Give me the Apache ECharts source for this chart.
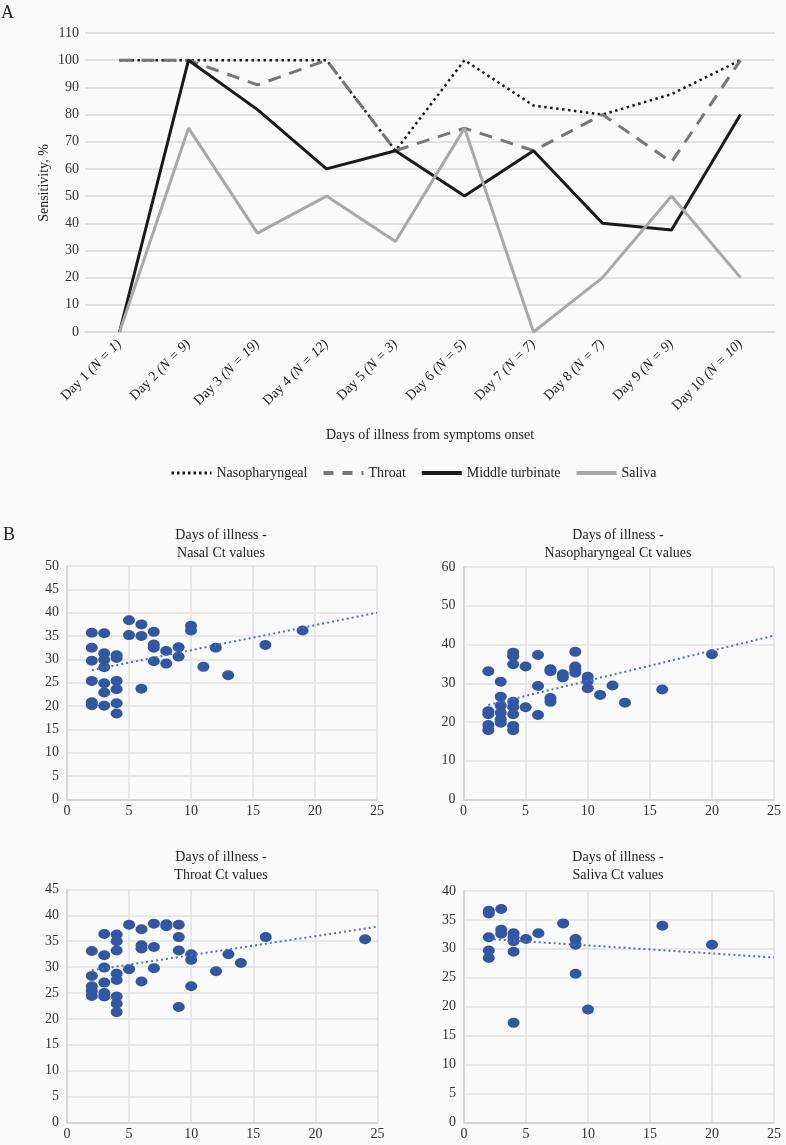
<!DOCTYPE html>
<html><head><meta charset="utf-8">
<script src="https://cdn.jsdelivr.net/npm/echarts@6/dist/echarts.min.js"></script>
<style>html,body{margin:0;padding:0;background:#fafafa}#c{width:786px;height:1145px}</style>
</head><body><div id="c"></div>
<script>
// ---------- Panel A data ----------
const days = ['Day 1','Day 2','Day 3','Day 4','Day 5','Day 6','Day 7','Day 8','Day 9','Day 10'];
const nCounts = [1,9,19,12,3,5,7,7,9,10];
const yTicksA = {min:0, max:110, interval:10};
const nasopharyngeal  = [100,100,100,100,66.7,100,83.3,80,87.5,100];
const throat          = [100,100,90.9,100,66.7,75,66.7,80,62.5,100];
const middleTurbinate = [0,100,81.8,60,66.7,50,66.7,40,37.5,80];
const saliva          = [0,75,36.4,50,33.3,75,0,20,50,20];

// ---------- Panel B data ([day, Ct]) ----------
const nasalCt = [
 [2,35.7],[2,32.5],[2,29.7],[2,25.4],[2,20.8],[2,20.2],
 [3,35.6],[3,31.3],[3,29.9],[3,28.3],[3,24.9],[3,22.9],[3,20.1],
 [4,30.9],[4,30.3],[4,25.4],[4,23.6],[4,20.6],[4,18.4],
 [5,38.4],[5,35.2],
 [6,37.5],[6,35.0],[6,23.7],
 [7,35.9],[7,33.2],[7,32.5],[7,29.6],
 [8,31.8],[8,29.1],
 [9,32.6],[9,30.6],
 [10,37.2],[10,36.2],
 [11,28.4],[12,32.5],[13,26.6],[16,33.1],[19,36.2]
];
const nasopharyngealCt = [
 [2,33.1],[2,22.8],[2,22.0],[2,19.2],[2,17.9],
 [3,30.4],[3,26.5],[3,24.2],[3,22.4],[3,20.7],[3,19.8],
 [4,37.9],[4,37.0],[4,34.9],[4,25.2],[4,23.9],[4,22.0],[4,19.0],[4,17.9],
 [5,34.3],[5,23.8],
 [6,37.3],[6,29.3],[6,21.8],
 [7,33.6],[7,33.1],[7,26.2],[7,25.2],
 [8,32.3],[8,31.5],
 [9,38.1],[9,34.3],[9,33.6],[9,32.7],
 [10,31.7],[10,30.6],[10,28.7],
 [11,27.0],[12,29.4],[13,25.0],[16,28.4],[20,37.5]
];
const throatCt = [
 [2,33.1],[2,28.3],[2,26.3],[2,25.4],[2,24.4],
 [3,36.4],[3,32.3],[3,29.9],[3,27.0],[3,25.0],[3,24.3],
 [4,36.3],[4,35.0],[4,33.2],[4,28.7],[4,27.5],[4,24.3],[4,22.9],[4,21.3],
 [5,38.2],[5,29.6],
 [6,37.3],[6,34.2],[6,33.6],[6,27.2],
 [7,38.4],[7,33.9],[7,29.8],
 [8,38.3],[8,37.9],
 [9,38.2],[9,35.8],[9,33.2],[9,22.3],
 [10,32.5],[10,31.4],[10,26.3],
 [12,29.2],[13,32.5],[14,30.8],[16,35.8],[24,35.4]
];
const salivaCt = [
 [2,36.6],[2,36.1],[2,32.0],[2,29.7],[2,28.4],
 [3,36.9],[3,33.3],[3,32.6],
 [4,32.7],[4,32.0],[4,31.3],[4,29.5],[4,17.2],
 [5,31.7],[6,32.7],[8,34.4],
 [9,31.7],[9,30.7],[9,25.7],
 [10,19.5],[16,34.0],[20,30.7]
];
// trend line end points
const nasalTrend = [[2,27.7],[25,40.0]];
const nasopharyngealTrend = [[2,24.4],[25,42.3]];
const throatTrend = [[2,29.4],[25,37.8]];
const salivaTrend = [[2,31.7],[25,28.5]];
const yMaxB = [50,60,45,40];
const yIntB = [5,10,5,5];

const FONT = 'Liberation Serif';
const TXT = '#222';
const GRIDC = '#d9d9d9';

const chart = echarts.init(document.getElementById('c'));

const gridsB = [
 {left:67, right:409, top:566, bottom:345.5},
 {left:463.5, right:12, top:567, bottom:345.5},
 {left:67, right:408.5, top:889.5, bottom:22.7},
 {left:464, right:12, top:891, bottom:22.7}
];
const scatterSets = [nasalCt, nasopharyngealCt, throatCt, salivaCt];
const trendSets = [nasalTrend, nasopharyngealTrend, throatTrend, salivaTrend];

const xAxes = [{
  gridIndex:0, type:'category', data:days, boundaryGap:true,
  axisLine:{lineStyle:{color:GRIDC, width:1.5}}, axisTick:{show:false},
  axisLabel:{rotate:45, margin:10, interval:0, color:TXT,
    formatter:(v,i)=>`{a|${v} }{b|(N = ${nCounts[i]})}`,
    rich:{a:{fontFamily:FONT, fontSize:14, color:TXT}, b:{fontFamily:FONT, fontSize:14, fontStyle:'italic', color:TXT}}}
}];
const yAxes = [{
  gridIndex:0, type:'value', min:yTicksA.min, max:yTicksA.max, interval:yTicksA.interval,
  axisLine:{show:false}, axisTick:{show:false},
  splitLine:{lineStyle:{color:GRIDC, width:1.5}},
  axisLabel:{margin:6, fontFamily:FONT, fontSize:14, color:'#333'}
}];
gridsB.forEach((g,i)=>{
  xAxes.push({gridIndex:i+1, type:'value', min:0, max:25, interval:5,
    axisLine:{show:true, lineStyle:{color:'#d0d0d0', width:1.5}}, axisTick:{show:false},
    splitLine:{show:true, lineStyle:{color:'#e0e0e0', width:1.5}},
    axisLabel:{margin:5, fontFamily:FONT, fontSize:14, color:'#333'}});
  yAxes.push({gridIndex:i+1, type:'value', min:0, max:yMaxB[i], interval:yIntB[i],
    axisLine:{show:true, lineStyle:{color:'#d0d0d0', width:1.5}}, axisTick:{show:false},
    splitLine:{show:true, lineStyle:{color:'#e0e0e0', width:1.5}},
    axisLabel:{margin:8, fontFamily:FONT, fontSize:14, color:'#333'}});
});

const series = [
  {name:'Nasopharyngeal', type:'line', data:nasopharyngeal, symbol:'none', xAxisIndex:0, yAxisIndex:0,
   lineStyle:{color:'#1a1a1a', width:2.5, type:[2.5,3.5]}, itemStyle:{color:'#1a1a1a'}},
  {name:'Throat', type:'line', data:throat, symbol:'none', xAxisIndex:0, yAxisIndex:0,
   lineStyle:{color:'#777777', width:3, type:[13,9]}, itemStyle:{color:'#777777'}},
  {name:'Middle turbinate', type:'line', data:middleTurbinate, symbol:'none', xAxisIndex:0, yAxisIndex:0,
   lineStyle:{color:'#1a1a1a', width:3}, itemStyle:{color:'#1a1a1a'}},
  {name:'Saliva', type:'line', data:saliva, symbol:'none', xAxisIndex:0, yAxisIndex:0,
   lineStyle:{color:'#a8a8a8', width:3}, itemStyle:{color:'#a8a8a8'}}
];
scatterSets.forEach((d,i)=>{
  series.push({name:'ct'+i, type:'scatter', data:d, xAxisIndex:i+1, yAxisIndex:i+1,
    symbol:'circle', symbolSize:[12,10], itemStyle:{color:'#3157a3', opacity:1}});
  series.push({name:'trend'+i, type:'line', data:trendSets[i], xAxisIndex:i+1, yAxisIndex:i+1,
    symbol:'none', silent:true, z:3, lineStyle:{color:'#4a72c4', width:2, type:[2,3]}});
});

function txt(text, x, y, size, extra){
  return Object.assign({type:'text', x, y, silent:true,
    style:{text, fill:TXT, font:`${size}px "${FONT}"`, align:'center', verticalAlign:'middle'}}, extra||{});
}
const titlesB = [
  ['Days of illness -','Nasal Ct values',221,535],
  ['Days of illness -','Nasopharyngeal Ct values',618,535],
  ['Days of illness -','Throat Ct values',221,857],
  ['Days of illness -','Saliva Ct values',618,857]
];
const graphics = [
  {type:'text', x:1, y:4, style:{text:'A', fill:TXT, font:`18px "${FONT}"`}},
  {type:'text', x:3, y:526, style:{text:'B', fill:TXT, font:`18px "${FONT}"`}},
  txt('Days of illness from symptoms onset', 430, 435, 14),
  txt('Sensitivity, %', 44, 183, 14, {rotation:Math.PI/2})
];
titlesB.forEach(t=>{ graphics.push(txt(t[0], t[2], t[3], 14)); graphics.push(txt(t[1], t[2], t[3]+18, 14)); });

const legendNames = ['Nasopharyngeal','Throat','Middle turbinate','Saliva'];
const legendLine = [
  {width:3, type:[2.5,3]},
  {width:4, type:[10,9]},
  {width:4, type:'solid'},
  {width:4, type:'solid'}
];
chart.setOption({
  animation:false,
  backgroundColor:'#fafafa',
  grid:[{left:85, right:11, top:33, bottom:813}].concat(gridsB),
  xAxis:xAxes, yAxis:yAxes, series,
  legend:{data:legendNames.map((n,i)=>({name:n, itemStyle:{opacity:0}, lineStyle:legendLine[i]})), left:165, top:461,
    itemWidth:40, itemHeight:14, itemGap:14, textStyle:{fontFamily:FONT, fontSize:14, color:TXT}},
  graphic:graphics
});
</script></body></html>
